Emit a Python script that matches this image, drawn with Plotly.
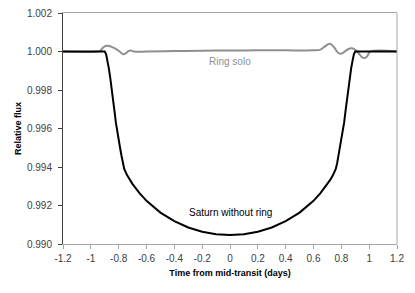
import plotly.graph_objects as go

# Saturn without ring (black)
saturn_x = [-1.2, -0.9, -0.89, -0.88, -0.87, -0.86, -0.85, -0.84, -0.83, -0.82, -0.81,
            -0.80, -0.79, -0.78, -0.77, -0.76, -0.74, -0.72, -0.70, -0.65, -0.60, -0.50,
            -0.40, -0.30, -0.20, -0.10, 0.0,
            0.10, 0.20, 0.30, 0.40, 0.50, 0.60, 0.65, 0.70, 0.72, 0.74, 0.76, 0.77,
            0.78, 0.79, 0.80, 0.81, 0.82, 0.83, 0.84, 0.85, 0.86, 0.87, 0.88, 0.89, 0.9, 1.2]
saturn_y = [1.0, 1.0, 0.99985, 0.9995, 0.9991, 0.9986, 0.9981, 0.9975, 0.9969, 0.9963, 0.9958,
            0.9954, 0.9950, 0.9946, 0.9942, 0.9939, 0.99358, 0.99333, 0.99311, 0.99264, 0.99224, 0.99163,
            0.99119, 0.99086, 0.99064, 0.99051, 0.99047,
            0.99051, 0.99064, 0.99086, 0.99119, 0.99163, 0.99224, 0.99264, 0.99311, 0.99333, 0.99358, 0.9939, 0.9942,
            0.9946, 0.9950, 0.9954, 0.9958, 0.9963, 0.9969, 0.9975, 0.9981, 0.9986, 0.9991, 0.9995, 0.99985, 1.0, 1.0]

# Ring solo (gray)
ring_x = [-1.2, -0.95, -0.93, -0.915, -0.9, -0.887, -0.87, -0.85, -0.827, -0.80, -0.78, -0.766,
          -0.75, -0.73, -0.714, -0.70, -0.68, -0.6, -0.4, -0.2, 0.0, 0.2, 0.4, 0.6, 0.65, 0.68,
          0.714, 0.73, 0.75, 0.77, 0.791, 0.81, 0.84, 0.86, 0.875, 0.89, 0.91, 0.93, 0.95, 0.971,
          0.99, 1.007, 1.2]
ring_y = [1.0, 1.0, 1.00005, 1.00018, 1.00027, 1.0003, 1.00029, 1.00024, 1.00016, 1.00004, 0.99992, 0.99986,
          0.9999, 1.00002, 1.00005, 1.00002, 0.99999, 1.0, 1.00002, 1.00004, 1.00005, 1.00006, 1.00006, 1.00006, 1.0001, 1.00025,
          1.0004, 1.00035, 1.0002, 0.99998, 0.99988, 0.99992, 1.00008, 1.00016, 1.00017, 1.00014, 1.00003, 0.99985, 0.9997, 0.99967,
          0.9998, 1.0, 1.0]

x_ticks = [-1.2, -1.0, -0.8, -0.6, -0.4, -0.2, 0.0, 0.2, 0.4, 0.6, 0.8, 1.0, 1.2]
x_tick_labels = ["-1.2", "-1", "-0.8", "-0.6", "-0.4", "-0.2", "0", "0.2", "0.4", "0.6", "0.8", "1", "1.2"]
y_ticks = [0.990, 0.992, 0.994, 0.996, 0.998, 1.000, 1.002]
y_tick_labels = ["0.990", "0.992", "0.994", "0.996", "0.998", "1.000", "1.002"]

fig = go.Figure()
fig.add_trace(go.Scatter(x=ring_x, y=ring_y, mode="lines",
                         line=dict(color="#8f8f8f", width=2, shape="spline", smoothing=1.0),
                         hoverinfo="skip", showlegend=False))
fig.add_trace(go.Scatter(x=saturn_x, y=saturn_y, mode="lines",
                         line=dict(color="#000000", width=2),
                         hoverinfo="skip", showlegend=False))

fig.add_annotation(x=0.0, y=0.9995, text="Ring solo", showarrow=False,
                   font=dict(family="Liberation Sans", size=10, color="#8f8f8f"))
fig.add_annotation(x=0.0, y=0.99162, text="Saturn without ring", showarrow=False,
                   font=dict(family="Liberation Sans", size=10, color="#000000"))

# right border of plot area
fig.add_shape(type="line", xref="paper", yref="paper", x0=1, x1=1, y0=0, y1=1,
              line=dict(color="#a6a6a6", width=1))

fig.update_layout(
    width=415, height=293,
    margin=dict(l=63, r=18, t=13, b=49),
    paper_bgcolor="white", plot_bgcolor="white",
    font=dict(family="Liberation Sans", size=10, color="#404040"),
    xaxis=dict(range=[-1.2, 1.2], tickmode="array", tickvals=x_ticks, ticktext=x_tick_labels,
               showgrid=False, zeroline=False, showline=True, linecolor="#a6a6a6", linewidth=1,
               mirror=True, ticks="outside", ticklen=4, tickcolor="#a6a6a6", automargin=False,
               tickfont=dict(size=10, color="#404040"), ticklabelstandoff=1,
               title=dict(text="<b>Time from mid-transit (days)</b>", standoff=6,
                          font=dict(size=9, color="#000000"))),
    yaxis=dict(range=[0.990, 1.002], tickmode="array", tickvals=y_ticks, ticktext=y_tick_labels,
               showgrid=False, zeroline=False, showline=True, linecolor="#404040", linewidth=1,
               ticks="outside", ticklen=4, tickcolor="#404040", automargin=False,
               tickfont=dict(size=10, color="#404040"), ticklabelstandoff=4,
               title=dict(text="<b>Relative flux</b>", standoff=3,
                          font=dict(size=9, color="#000000"))),
)

fig.write_html("out.html", config={"displayModeBar": False},
               post_script="document.body.style.margin='0';")
